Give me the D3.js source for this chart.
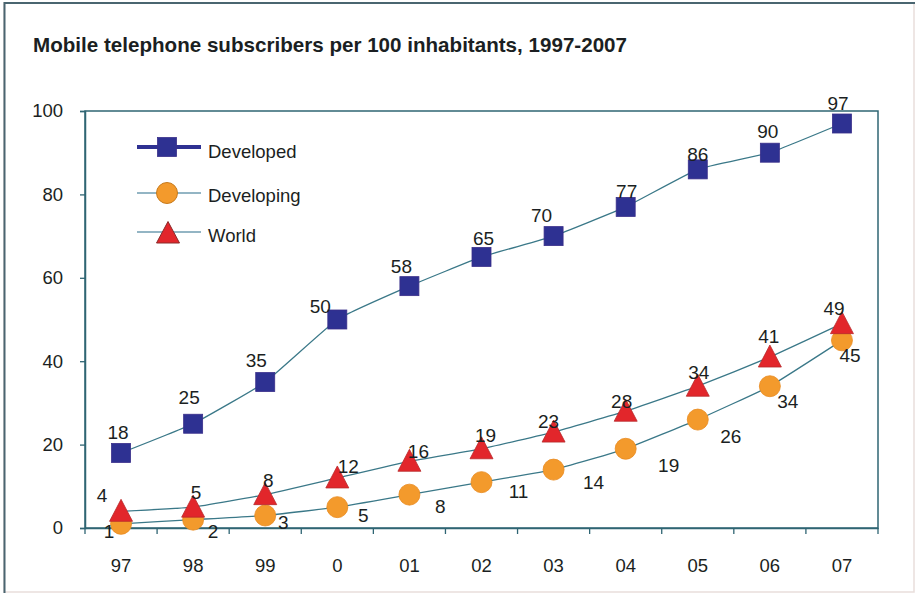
<!DOCTYPE html>
<html>
<head>
<meta charset="utf-8">
<script src="https://cdn.jsdelivr.net/npm/d3@7"></script>
<style>
  html, body { margin: 0; padding: 0; background: #ffffff; }
  svg { display: block; }
  text { font-family: "Liberation Sans", Arial, sans-serif; }
</style>
</head>
<body>
<svg id="chart" width="920" height="601"></svg>
<script>
// ---------------- data ----------------
const years      = ["97", "98", "99", "0", "01", "02", "03", "04", "05", "06", "07"];
const developed  = [18, 25, 35, 50, 58, 65, 70, 77, 86, 90, 97];
const developing = [1, 2, 3, 5, 8, 11, 14, 19, 26, 34, 45];
const world      = [4, 5, 8, 12, 16, 19, 23, 28, 34, 41, 49];
const yTicks     = [0, 20, 40, 60, 80, 100];
const seriesNames = ["Developed", "Developing", "World"];
const title = "Mobile telephone subscribers per 100 inhabitants, 1997-2007";

// ------------- label layout nudges (dx, baseline dy) -------------
const nudgeDeveloped  = [[-3,-14],[-4,-20],[-9,-15],[-17,-7],[-8,-13],[2,-12],[-12,-14],[1,-9],[0,-8],[-2,-15],[-4,-14]];
const nudgeDeveloping = [[-12,14],[20,18],[18,14],[26,15],[31,18],[37,16],[40,19],[43,23],[33,23],[18,22],[8,22]];
const nudgeWorld      = [[-19,-9],[3,-8],[3,-8],[11,-5],[9,-3],[4,-7],[-5,-4],[-4,-3],[1,-7],[-1,-14],[-8,-9]];

// ---------------- styles ----------------
const C = {
  axis: "#2f6573",
  line: "#3a7888",
  text: "#1b1f22",
  sq: "#2e3192", sqStroke: "#3a2f8a",
  circ: "#f39a2c", circStroke: "#e88a20",
  tri: "#e2262b", triStroke: "#b8292b"
};

const svg = d3.select("#chart");

// outer frame
svg.append("rect").attr("x", 4).attr("y", 3).attr("width", 910).attr("height", 589)
  .attr("fill", "#ffffff").attr("stroke", "#e9dedb").attr("stroke-width", 1.5);
svg.append("line").attr("x1", 4.5).attr("x2", 4.5).attr("y1", 2).attr("y2", 593)
  .attr("stroke", "#4a6570").attr("stroke-width", 2);
svg.append("line").attr("x1", 4).attr("x2", 915).attr("y1", 3).attr("y2", 3)
  .attr("stroke", "#4a6570").attr("stroke-width", 2);

// title
svg.append("text").attr("x", 33).attr("y", 51.5)
  .attr("font-size", "20.6px").attr("font-weight", "bold").attr("fill", C.text)
  .text(title);

// scales
const pLeft = 85, pRight = 878, pTop = 111, pBottom = 528;
const x = d3.scaleBand().domain(years).range([pLeft, pRight]);
const y = d3.scaleLinear().domain([0, 100]).range([pBottom, pTop]);
const cx = d => x(d) + x.bandwidth() / 2;

// plot box
svg.append("rect").attr("x", pLeft).attr("y", pTop).attr("width", pRight - pLeft).attr("height", pBottom - pTop)
  .attr("fill", "none").attr("stroke", C.axis).attr("stroke-width", 1.5);

// y axis
const yAxis = svg.append("g").attr("transform", `translate(${pLeft},0)`)
  .call(d3.axisLeft(y).tickValues(yTicks).tickSize(5).tickPadding(17).tickFormat(d3.format("d")));
yAxis.select(".domain").attr("stroke", C.axis).attr("stroke-width", 1.5);
yAxis.selectAll(".tick line").attr("stroke", C.axis).attr("stroke-width", 1.3);
yAxis.selectAll(".tick text").attr("font-size", "18.5px").attr("fill", C.text)
  .attr("font-family", "Liberation Sans, Arial, sans-serif");

// x axis labels
const xAxis = svg.append("g").attr("transform", `translate(0,${pBottom})`)
  .call(d3.axisBottom(x).tickSize(0).tickPadding(31));
xAxis.select(".domain").attr("stroke", C.axis).attr("stroke-width", 1.5);
xAxis.selectAll(".tick text").attr("font-size", "18.5px").attr("fill", C.text)
  .attr("font-family", "Liberation Sans, Arial, sans-serif");
// x boundary ticks
const bounds = years.map(d => x(d)).concat([x.range()[1]]);
svg.append("g").selectAll("line").data(bounds).join("line")
  .attr("x1", d => d).attr("x2", d => d).attr("y1", pBottom).attr("y2", pBottom + 6)
  .attr("stroke", C.axis).attr("stroke-width", 1.3);

// lines
const line = d3.line().x((d, i) => cx(years[i])).y(d => y(d)).curve(d3.curveCardinal.tension(0.65));
[developed, developing, world].forEach(s => {
  svg.append("path").datum(s).attr("d", line)
    .attr("fill", "none").attr("stroke", C.line).attr("stroke-width", 1.3);
});

// markers
const sqS = 19;
svg.append("g").selectAll("rect").data(developed).join("rect")
  .attr("x", (d, i) => cx(years[i]) - sqS / 2).attr("y", d => y(d) - sqS / 2)
  .attr("width", sqS).attr("height", sqS)
  .attr("fill", C.sq).attr("stroke", C.sqStroke).attr("stroke-width", 0.8);

svg.append("g").selectAll("circle").data(developing).join("circle")
  .attr("cx", (d, i) => cx(years[i])).attr("cy", d => y(d)).attr("r", 10.5)
  .attr("fill", C.circ).attr("stroke", C.circStroke).attr("stroke-width", 0.8);

const triPath = "M0,-12L11.5,10L-11.5,10Z";
svg.append("g").selectAll("path").data(world).join("path")
  .attr("transform", (d, i) => `translate(${cx(years[i])},${y(d)})`)
  .attr("d", triPath)
  .attr("fill", C.tri).attr("stroke", C.triStroke).attr("stroke-width", 0.8);

// data labels
function labels(series, nudges) {
  svg.append("g").selectAll("text").data(series).join("text")
    .attr("x", (d, i) => cx(years[i]) + nudges[i][0])
    .attr("y", (d, i) => y(d) + nudges[i][1])
    .attr("text-anchor", "middle").attr("font-size", "19px").attr("fill", C.text)
    .text(d => d);
}
labels(developed, nudgeDeveloped);
labels(developing, nudgeDeveloping);
labels(world, nudgeWorld);

// legend
const legend = svg.append("g");
const lgX1 = 137, lgX2 = 201, lgMid = 167, lgText = 208;
const lgY = [147, 193, 232];
const lgBase = [11, 9, 10];
// Developed
legend.append("line").attr("x1", lgX1).attr("x2", lgX2).attr("y1", lgY[0]).attr("y2", lgY[0])
  .attr("stroke", C.sq).attr("stroke-width", 4);
legend.append("rect").attr("x", lgMid - sqS / 2).attr("y", lgY[0] - sqS / 2).attr("width", sqS).attr("height", sqS)
  .attr("fill", C.sq).attr("stroke", C.sqStroke).attr("stroke-width", 0.8);
// Developing
legend.append("line").attr("x1", lgX1).attr("x2", lgX2).attr("y1", lgY[1]).attr("y2", lgY[1])
  .attr("stroke", "#6f9cb0").attr("stroke-width", 1.5);
legend.append("circle").attr("cx", lgMid).attr("cy", lgY[1]).attr("r", 10.5)
  .attr("fill", C.circ).attr("stroke", "#c77a1c").attr("stroke-width", 1);
// World
legend.append("line").attr("x1", lgX1).attr("x2", lgX2).attr("y1", lgY[2]).attr("y2", lgY[2])
  .attr("stroke", "#6f9cb0").attr("stroke-width", 1.5);
legend.append("path").attr("transform", `translate(${lgMid + 1},${lgY[2]})`).attr("d", "M0,-10.5L11.5,11L-11.5,11Z")
  .attr("fill", C.tri).attr("stroke", "#8a2a2a").attr("stroke-width", 1);
legend.selectAll("text.lg").data(seriesNames).join("text").attr("class", "lg")
  .attr("x", lgText).attr("y", (d, i) => lgY[i] + lgBase[i])
  .attr("font-size", "18.5px").attr("fill", C.text).text(d => d);
</script>
</body>
</html>
